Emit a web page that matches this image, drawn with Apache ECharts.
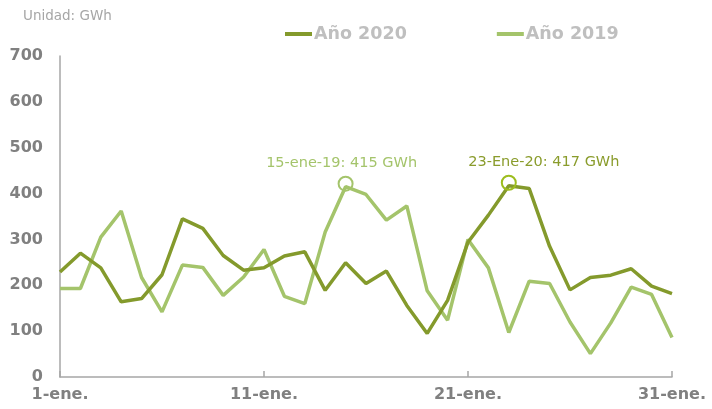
<!DOCTYPE html>
<html>
<head>
<meta charset="utf-8">
<script src="https://cdn.jsdelivr.net/npm/echarts@6/dist/echarts.min.js"></script>
<style>
html,body{margin:0;padding:0;background:#fff;}
#c{width:712px;height:409px;}
</style>
</head>
<body>
<div id="c"></div>
<script>
const days = ["1-ene.","2-ene.","3-ene.","4-ene.","5-ene.","6-ene.","7-ene.","8-ene.","9-ene.","10-ene.",
  "11-ene.","12-ene.","13-ene.","14-ene.","15-ene.","16-ene.","17-ene.","18-ene.","19-ene.","20-ene.",
  "21-ene.","22-ene.","23-ene.","24-ene.","25-ene.","26-ene.","27-ene.","28-ene.","29-ene.","30-ene.","31-ene."];
const year2020 = [229,270,238,164,171,223,345,324,265,233,238,264,273,189,249,204,231,156,95,167,294,353,417,411,285,190,217,222,236,198,182];
const year2019 = [193,193,305,362,217,142,244,239,178,218,278,176,160,316,415,398,342,373,188,124,300,238,97,209,204,120,51,118,196,180,86];
const yTicks = [0,100,200,300,400,500,600,700];
const peak2019 = {day:"15-ene.", value:415, text:"15-ene-19: 415 GWh"};
const peak2020 = {day:"23-ene.", value:417, text:"23-Ene-20: 417 GWh"};

const FONT = "DejaVu Sans";
const dark = "#849a2c", light = "#a4c46b";

const chart = echarts.init(document.getElementById('c'), null, {renderer:'canvas'});
chart.setOption({
  animation:false,
  backgroundColor:'#ffffff',
  title:{
    text:'Unidad: GWh', left:18, top:4,
    textStyle:{fontFamily:FONT, fontSize:13.5, fontWeight:'normal', color:'#a6a6a6'}
  },
  legend:{
    top:20, left:280, itemGap:90, itemWidth:27, itemHeight:4, icon:'rect',
    textStyle:{fontFamily:FONT, fontSize:17.5, fontWeight:'bold', color:'#bfbfbf', padding:[0,0,0,-3]},
    data:['Año 2020','Año 2019']
  },
  grid:{left:60, right:40, top:56, bottom:32},
  xAxis:{
    type:'category', data:days, boundaryGap:false,
    axisLine:{lineStyle:{color:'#a6a6a6', width:1.5}},
    axisTick:{show:true, inside:true, length:6, interval:(i)=>i%10===0, lineStyle:{color:'#a6a6a6', width:1.5}},
    axisLabel:{interval:(i)=>i%10===0, margin:10, fontFamily:FONT, fontSize:16, fontWeight:'bold', color:'#808080'},
    splitLine:{show:false}
  },
  yAxis:{
    type:'value', min:yTicks[0], max:yTicks[yTicks.length-1], interval:100,
    axisLine:{show:true, lineStyle:{color:'#a6a6a6', width:1.5}},
    axisTick:{show:false},
    splitLine:{show:false},
    axisLabel:{margin:17, fontFamily:FONT, fontSize:16, fontWeight:'bold', color:'#808080'}
  },
  series:[
    {
      name:'Año 2020', type:'line', data:year2020, showSymbol:false, symbol:'none',
      lineStyle:{color:dark, width:3.5}, itemStyle:{color:dark}, z:3,
      markPoint:{
        symbol:'circle', symbolSize:14, symbolOffset:[0,-3],
        itemStyle:{color:'rgba(0,0,0,0)', borderColor:'#9dbd1e', borderWidth:2},
        label:{show:true, position:'top', distance:5, offset:[35,0], formatter:peak2020.text,
          fontFamily:FONT, fontSize:14.5, color:'#8a9c2c'},
        data:[{coord:[peak2020.day, peak2020.value]}]
      }
    },
    {
      name:'Año 2019', type:'line', data:year2019, showSymbol:false, symbol:'none',
      lineStyle:{color:light, width:3.5}, itemStyle:{color:light}, z:2,
      markPoint:{
        symbol:'circle', symbolSize:14, symbolOffset:[0,-3],
        itemStyle:{color:'rgba(0,0,0,0)', borderColor:light, borderWidth:2},
        label:{show:true, position:'top', distance:5, offset:[-4,0], formatter:peak2019.text,
          fontFamily:FONT, fontSize:14.5, color:light},
        data:[{coord:[peak2019.day, peak2019.value]}]
      }
    }
  ]
});
</script>
</body>
</html>
